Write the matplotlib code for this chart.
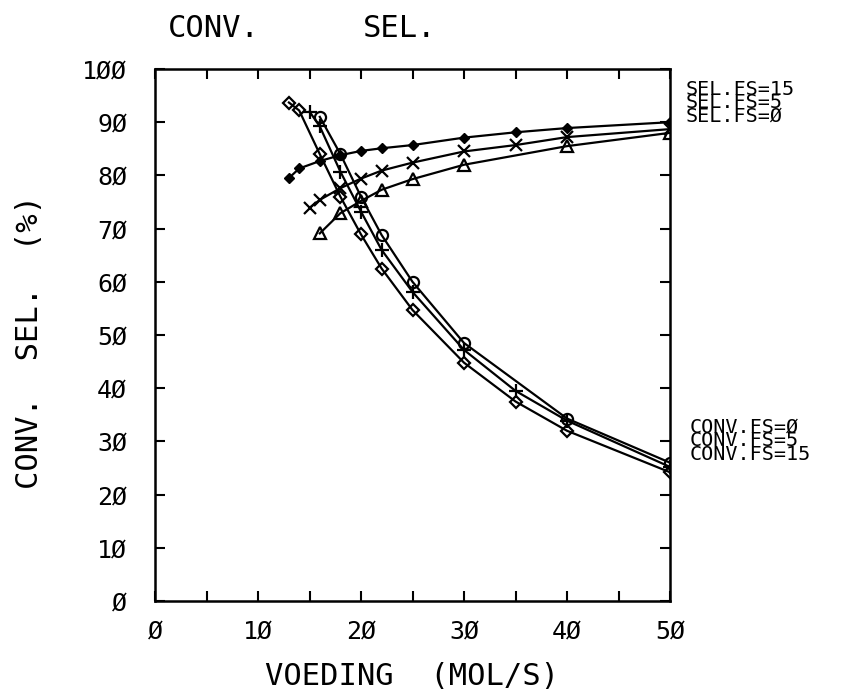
"""Conversion / selectivity vs feed, plotter style."""

import matplotlib
matplotlib.use('Agg')
import matplotlib.pyplot as plt
from matplotlib.ticker import FixedLocator, FixedFormatter

plt.rcParams['font.family'] = ['DejaVu Sans Mono', 'DejaVu Sans']

# feed (mol/s) per run
x_fs15 = [13, 14, 16, 18, 20, 22, 25, 30, 35, 40, 50]
x_fs5 = [15, 16, 18, 20, 22, 25, 30, 35, 40, 50]
x_fs0 = [16, 18, 20, 22, 25, 30, 40, 50]

# selectivity (%)
sel_fs15 = [79.5, 81.3, 82.7, 83.8, 84.6, 85.1, 85.7, 87.1, 88.1, 88.9, 90.0]
sel_fs5 = [73.9, 75.4, 77.6, 79.4, 80.9, 82.4, 84.5, 85.7, 87.2, 88.7]
sel_fs0 = [69.1, 72.9, 75.2, 77.3, 79.3, 82.0, 85.5, 88.0]

# conversion (%)
conv_fs15 = [93.7, 92.2, 84.0, 76.0, 68.9, 62.5, 54.7, 44.8, 37.5, 32.0, 24.2]
conv_fs5 = [92.0, 89.2, 80.7, 73.2, 66.0, 58.1, 47.2, 39.5, 33.9, 25.2]
conv_fs0 = [91.0, 84.0, 76.0, 68.8, 60.0, 48.5, 34.3, 26.0]

x_ticks = [0, 10, 20, 30, 40, 50]
x_ticklabels = ['Ø', '1Ø', '2Ø', '3Ø', '4Ø', '5Ø']
y_ticks = [0, 10, 20, 30, 40, 50, 60, 70, 80, 90, 100]
y_ticklabels = ['Ø', '1Ø', '2Ø', '3Ø', '4Ø', '5Ø', '6Ø', '7Ø', '8Ø', '9Ø', '1ØØ']

sel_labels = ['SEL.FS=15', 'SEL.FS=5', 'SEL.FS=Ø']
conv_labels = ['CONV.FS=Ø', 'CONV.FS=5', 'CONV.FS=15']

W, H = 842, 690
fig = plt.figure(figsize=(W / 100, H / 100), dpi=100)
ax = fig.add_axes([155 / W, 1 - 601 / H, 515 / W, 532 / H])

line = dict(color='k', lw=1.6)
ax.plot(x_fs15, sel_fs15, marker='D', ms=5, mfc='k', **line)
ax.plot(x_fs5, sel_fs5, marker='x', ms=9, mew=1.6, **line)
ax.plot(x_fs0, sel_fs0, marker='^', ms=8, mfc='none', mew=1.6, **line)
ax.plot(x_fs15, conv_fs15, marker='D', ms=6.5, mfc='none', mew=1.6, **line)
ax.plot(x_fs5, conv_fs5, marker='+', ms=10, mew=1.6, **line)
ax.plot(x_fs0, conv_fs0, marker='o', ms=8, mfc='none', mew=1.6, **line)

ax.set_xlim(0, 50)
ax.set_ylim(0, 100)
ax.xaxis.set_major_locator(FixedLocator(x_ticks))
ax.xaxis.set_major_formatter(FixedFormatter(x_ticklabels))
ax.xaxis.set_minor_locator(FixedLocator([5, 15, 25, 35, 45]))
ax.yaxis.set_major_locator(FixedLocator(y_ticks))
ax.yaxis.set_major_formatter(FixedFormatter(y_ticklabels))
ax.tick_params(which='both', direction='in', length=7, width=1.5,
               top=True, right=True, labelsize=18)
ax.tick_params(axis='x', pad=13)
ax.tick_params(axis='y', pad=20)
for s in ax.spines.values():
    s.set_linewidth(1.8)

# title, axis labels
big = dict(fontsize=22, color='k')
fig.text(168 / W, 1 - 37 / H, 'CONV.', ha='left', va='baseline', **big)
fig.text(436 / W, 1 - 37 / H, 'SEL.', ha='right', va='baseline', **big)
fig.text(412 / W, 1 - 685 / H, 'VOEDING  (MOL/S)', ha='center',
         va='baseline', **big)
fig.text(30 / W, 1 - 342 / H, 'CONV.  SEL.  (%)', rotation=90,
         ha='center', va='center', **big)

# curve labels at the right, lines packed tight as on the plotter
small = dict(fontsize=14.5, color='k', ha='left', va='top', linespacing=0.62)
fig.text(686 / W, 1 - 80 / H, '\n'.join(sel_labels), **small)
fig.text(690 / W, 1 - 418 / H, '\n'.join(conv_labels), **small)

fig.savefig('out.png', dpi=100)
